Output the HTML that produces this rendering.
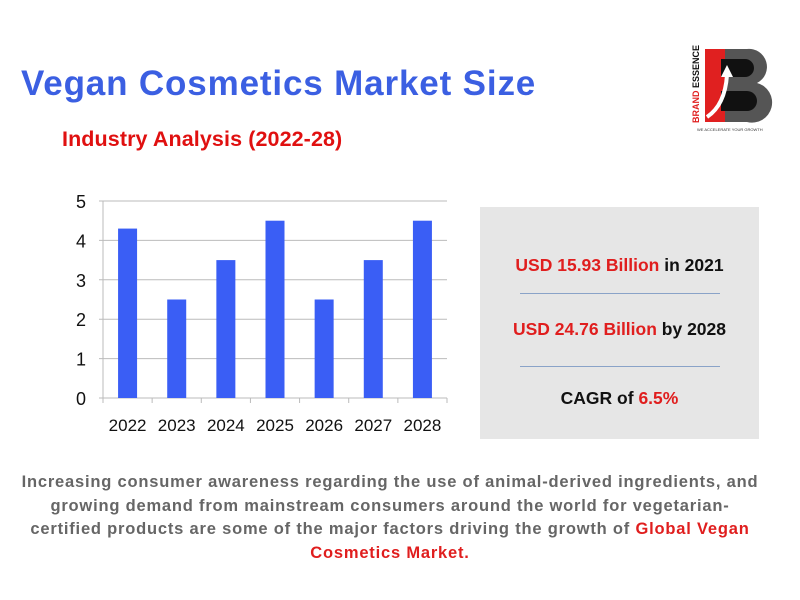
<!DOCTYPE html>
<html><head><meta charset="utf-8"><style>
body{margin:0;width:800px;height:600px;background:#fff;position:relative;overflow:hidden;font-family:"Liberation Sans",sans-serif}
.abs{position:absolute}
#title{left:21px;top:64px;font-size:35px;font-weight:bold;color:#3b5fe2;letter-spacing:0.85px;white-space:nowrap}
#sub{left:62px;top:127px;font-size:21.5px;font-weight:bold;color:#e01010;white-space:nowrap;letter-spacing:0.1px}
#box{left:480px;top:207px;width:279px;height:232px;background:#e6e6e6}
.st{position:absolute;left:0;width:279px;text-align:center;font-size:17.5px;font-weight:bold;color:#111;white-space:nowrap}
.r{color:#e01e1e}
.ln{position:absolute;left:40px;width:200px;height:1px;background:#8aa3c8}
#para{left:-10px;top:471px;width:800px;text-align:center;font-size:16.5px;font-weight:bold;color:#666;line-height:23.7px;letter-spacing:0.8px;white-space:nowrap}
</style></head><body>
<div id="title" class="abs">Vegan Cosmetics Market Size</div>
<div id="sub" class="abs">Industry Analysis (2022-28)</div>
<svg class="abs" style="left:685px;top:45px" width="90" height="90">
<rect x="20" y="4" width="28" height="73" fill="#e02020"/>
<path d="M40 4 h22 a18 18 0 0 1 10 34 a20 20 0 0 1 -10 39 h-22 z" fill="#555"/>
<path d="M36 14 h24 a9 9 0 0 1 0 18 h-24 z M36 46 h26 a10 10 0 0 1 0 20 h-26 z" fill="#111"/>
<path d="M22 72 Q40 60 42 30" stroke="#fff" stroke-width="4" fill="none"/>
<path d="M36 32 L42 20 L48 32 z" fill="#fff"/>
<text x="14" y="78" transform="rotate(-90 14 78)" font-size="9" font-weight="bold" fill="#e02020" font-family="Liberation Sans">BRAND <tspan fill="#111">ESSENCE</tspan></text>
<text x="12" y="86" font-size="4" fill="#333" font-family="Liberation Sans">WE ACCELERATE YOUR GROWTH</text>
</svg>
<svg id="chart" class="abs" style="left:0;top:0" width="470" height="450"></svg>
<div id="box" class="abs">
<div class="st" style="top:48px"><span class="r">USD 15.93 Billion</span> in 2021</div>
<div class="ln" style="top:86px"></div>
<div class="st" style="top:112px"><span class="r">USD 24.76 Billion</span> by 2028</div>
<div class="ln" style="top:159px"></div>
<div class="st" style="top:181px">CAGR of <span class="r">6.5%</span></div>
</div>
<div id="para" class="abs">Increasing consumer awareness regarding the use of animal-derived ingredients, and<br>growing demand from mainstream consumers around the world for vegetarian-<br>certified products are some of the major factors driving the growth of <span style="color:#e01e1e">Global Vegan</span><br><span style="color:#e01e1e">Cosmetics Market.</span></div>
<script>
const categories=["2022","2023","2024","2025","2026","2027","2028"];
const values=[4.3,2.5,3.5,4.5,2.5,3.5,4.5];
const yTicks=[0,1,2,3,4,5];
const svg=document.getElementById('chart');
const NS='http://www.w3.org/2000/svg';
const x0=103,x1=447,y0=398,y1=201,yMax=5;
const bw=(x1-x0)/categories.length;
const Y=v=>y0-(v/yMax)*(y0-y1);
const X=i=>x0+bw*i;
function mk(t,a){const e=document.createElementNS(NS,t);for(const k in a)e.setAttribute(k,a[k]);svg.appendChild(e);return e;}
yTicks.forEach(t=>{
 const g=mk('line',{x1:x0-4,x2:x1,y1:Y(t),y2:Y(t),stroke:'#bbb','stroke-width':1});
 
 
 const l=mk('text',{x:86,y:Y(t)+7,'text-anchor':'end','font-size':18,fill:'#111','font-family':'Liberation Sans'});
 l.textContent=t;
 
 
});
const ax=mk('line',{x1:x0,x2:x0,y1:y1,y2:y0,stroke:'#bbb'});


categories.forEach((c,i)=>{
 const tk=mk('line',{x1:X(i),x2:X(i),y1:y0,y2:y0+5,stroke:'#bbb'});
 
 
 const b=mk('rect',{x:X(i)+bw/2-9.5,y:Y(values[i]),width:19,height:y0-Y(values[i]),fill:'#3a5ef5'});
 
 
 const l=mk('text',{x:X(i)+bw/2,y:431,'text-anchor':'middle','font-size':17,fill:'#111','font-family':'Liberation Sans'});
 l.textContent=c;
 
 
});
const tl=mk('line',{x1:x1,x2:x1,y1:y0,y2:y0+5,stroke:'#bbb'});


</script>
</body></html>
